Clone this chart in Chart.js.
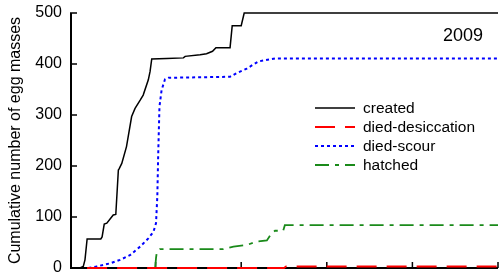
<!DOCTYPE html>
<html><head><meta charset="utf-8">
<script src="https://cdn.jsdelivr.net/npm/chart.js@4/dist/chart.umd.min.js"></script>
<style>html,body{margin:0;padding:0;background:#fff;overflow:hidden}canvas{display:block}</style>
</head><body>
<canvas id="c" width="499" height="275"></canvas>
<script>
// ---- data (x: time units on an unlabelled axis, y: cumulative egg masses) ----
const createdX = [1, 2.3, 3.1, 3.5, 4.0, 7.2, 7.5, 8.0, 8.6, 10.1, 10.7, 11.3, 11.5, 12.1, 13.2, 14.4, 15.2, 16.4, 17.1, 18.3, 18.7, 19.1, 22.6, 26.5, 26.9, 30.4, 31.9, 33.3, 34.1, 37.4, 37.9, 40.0, 40.7, 100];
const createdY = [0, 0, 3, 16, 57, 57, 61, 86, 88, 104, 105, 192, 195, 205, 238, 297, 313, 329, 339, 369, 385, 410, 411, 412, 415, 418, 420, 425, 432, 432, 475, 475, 500, 500];

const desiccX = [4, 50, 50.5, 100];
const desiccY = [0, 0, 3, 3];

const scourX = [4.3, 6.2, 9.3, 11.7, 14.0, 16.4, 18.3, 19.5, 20.1, 20.4, 20.6, 20.9, 21.4, 22.2, 23.0, 37.4, 38.9, 41.3, 44.0, 47.9, 100];
const scourY = [0, 3, 9, 16, 25, 42, 58, 71, 88, 140, 220, 316, 349, 370, 373, 375, 382, 391, 405, 411, 411];

const hatchedX = [19.9, 20.1, 20.3, 21.0, 35.8, 38.2, 41.3, 43.6, 46.0, 47.1, 47.9, 49.8, 50.2, 100];
const hatchedY = [0, 20, 32, 37, 37, 42, 45, 52, 54, 68, 73, 73, 84, 84];

const seriesNames = ['created', 'died-desiccation', 'died-scour', 'hatched'];
const yTicks = [0, 100, 200, 300, 400, 500];
const xTicks = [20, 40, 60, 80, 100];
const yearLabel = '2009';
const yTitle = 'Cumulative number of egg masses';

const FONT = "'Liberation Sans', Arial, sans-serif";
const colors = ['#000000', '#ff0000', '#0000ff', '#1a8a1a'];
const dashes = [[], [20, 10], [3, 3], [14, 6, 4, 6]];
const widths = [1.5, 2, 2, 1.8];

function pts(xs, ys) { return xs.map((x, i) => ({ x: x, y: ys[i] })); }
const allData = [pts(createdX, createdY), pts(desiccX, desiccY), pts(scourX, scourY), pts(hatchedX, hatchedY)];

const decor = {
  id: 'decor',
  beforeDatasetsDraw(chart) {
    const { ctx, chartArea: a, scales: { x, y } } = chart;
    ctx.save();
    ctx.strokeStyle = '#000';
    ctx.lineWidth = 2;
    ctx.beginPath();
    ctx.moveTo(a.left + 1, y.getPixelForValue(500));
    ctx.lineTo(a.left + 1, a.bottom + 1);
    ctx.moveTo(a.left, a.bottom);
    ctx.lineTo(a.right, a.bottom);
    ctx.stroke();
    ctx.lineWidth = 1.5;
    ctx.beginPath();
    yTicks.forEach(v => { const py = y.getPixelForValue(v); ctx.moveTo(a.left, py); ctx.lineTo(a.left + 7, py); });
    xTicks.forEach(v => { const px = x.getPixelForValue(v); ctx.moveTo(px, a.bottom); ctx.lineTo(px, a.bottom - 6); });
    ctx.stroke();
    ctx.restore();
  },
  afterDatasetsDraw(chart) {
    const { ctx } = chart;
    ctx.save();
    ctx.fillStyle = '#000';
    ctx.font = '18px ' + FONT;
    ctx.textAlign = 'right';
    ctx.textBaseline = 'middle';
    ctx.fillText(yearLabel, 483, 36);
    ctx.font = '15.5px ' + FONT;
    ctx.textAlign = 'left';
    chart.data.datasets.forEach((ds, i) => {
      const ly = 108 + i * 19;
      ctx.strokeStyle = ds.borderColor;
      ctx.lineWidth = ds.borderWidth;
      ctx.setLineDash(ds.borderDash || []);
      ctx.beginPath();
      ctx.moveTo(315, ly);
      ctx.lineTo(355, ly);
      ctx.stroke();
      ctx.setLineDash([]);
      ctx.fillText(ds.label, 363, ly + 1);
    });
    ctx.restore();
  }
};

new Chart(document.getElementById('c'), {
  type: 'line',
  data: {
    datasets: seriesNames.map((n, i) => ({
      label: n, data: allData[i], borderColor: colors[i], backgroundColor: colors[i],
      borderWidth: widths[i], borderDash: dashes[i], pointRadius: 0, tension: 0, fill: false, clip: 6
    }))
  },
  options: {
    responsive: false, animation: false, events: [],
    layout: { padding: { top: 13, right: 1, bottom: 7, left: 0 } },
    plugins: { legend: { display: false }, tooltip: { enabled: false } },
    scales: {
      x: { type: 'linear', min: 0, max: 100, display: false },
      y: {
        type: 'linear', min: 0, max: 500,
        afterFit(s) { s.width = 70; s.paddingTop = 0; s.paddingBottom = 0; },
        border: { display: false },
        grid: { display: false, drawTicks: false },
        ticks: { stepSize: 100, color: '#000', font: { family: FONT, size: 16, lineHeight: 0.8 }, padding: 8 },
        title: { display: true, text: yTitle, color: '#000', font: { family: FONT, size: 16 }, padding: { top: 6, bottom: 0 } }
      }
    }
  },
  plugins: [decor]
});
</script>
</body></html>
